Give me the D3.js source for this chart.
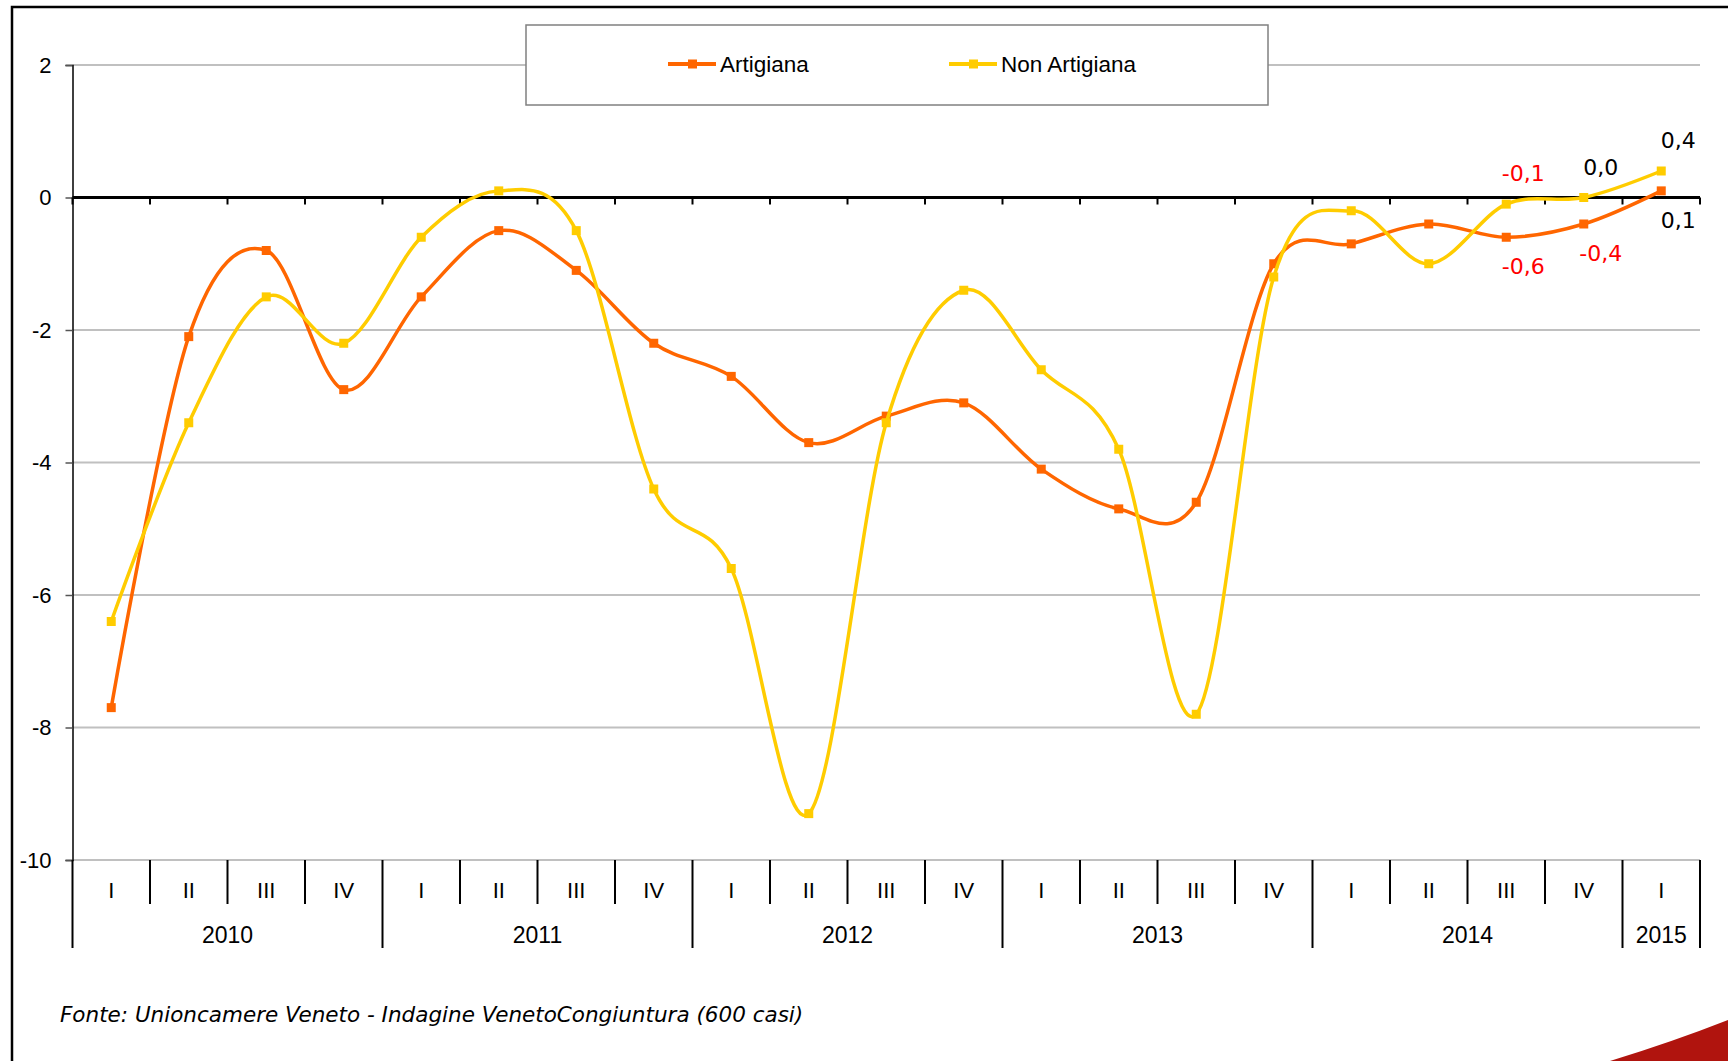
<!DOCTYPE html>
<html>
<head>
<meta charset="utf-8">
<script src="https://cdn.jsdelivr.net/npm/d3@7"></script>
<style>
  body { margin: 0; background: #fff; }
  svg { display: block; }
</style>
</head>
<body>
<div id="chart"></div>
<script>
const categories = [
  "2010 I", "2010 II", "2010 III", "2010 IV",
  "2011 I", "2011 II", "2011 III", "2011 IV",
  "2012 I", "2012 II", "2012 III", "2012 IV",
  "2013 I", "2013 II", "2013 III", "2013 IV",
  "2014 I", "2014 II", "2014 III", "2014 IV",
  "2015 I"
];
const years = ["2010", "2011", "2012", "2013", "2014", "2015"];
const artigiana = [-7.7, -2.1, -0.8, -2.9, -1.5, -0.5, -1.1, -2.2, -2.7, -3.7, -3.3, -3.1,
                   -4.1, -4.7, -4.6, -1.0, -0.7, -0.4, -0.6, -0.4, 0.1];
const nonArtigiana = [-6.4, -3.4, -1.5, -2.2, -0.6, 0.1, -0.5, -4.4, -5.6, -9.3, -3.4, -1.4,
                      -2.6, -3.8, -7.8, -1.2, -0.2, -1.0, -0.1, 0.0, 0.4];
const yTicks = [2, 0, -2, -4, -6, -8, -10];
// which points carry a value label: [series, category index, above/below]
const valueLabels = [
  ["Non Artigiana", 18, "above"], ["Artigiana", 18, "below"],
  ["Non Artigiana", 19, "above"], ["Artigiana", 19, "below"],
  ["Non Artigiana", 20, "above"], ["Artigiana", 20, "below"]
];

const series = [
  { name: "Artigiana", values: artigiana, color: "#FF6600" },
  { name: "Non Artigiana", values: nonArtigiana, color: "#FFCC00" }
];

const width = 1728, height = 1061;
const plotLeft = 72.5, plotRight = 1700, plotTop = 65, plotBottom = 860;
const axisFont = "'Liberation Sans', Arial, sans-serif";
const labelFont = "'DejaVu Sans', Verdana, sans-serif";

const svg = d3.select("#chart")
  .append("svg")
  .attr("width", width)
  .attr("height", height);

// outer frame (runs off the right and bottom edges)
svg.append("rect")
  .attr("x", 12)
  .attr("y", 7)
  .attr("width", 1800)
  .attr("height", 1200)
  .attr("fill", "none")
  .attr("stroke", "#000")
  .attr("stroke-width", 2.5);

const xScale = d3.scaleBand()
  .domain(categories)
  .range([plotLeft, plotRight]);

const yScale = d3.scaleLinear()
  .domain([-10, 2])
  .range([plotBottom, plotTop]);

const cx = (c) => xScale(c) + xScale.bandwidth() / 2;

// gridlines
svg.append("g")
  .selectAll("line")
  .data(yTicks.filter(d => d !== 0))
  .enter()
  .append("line")
  .attr("x1", plotLeft)
  .attr("x2", plotRight)
  .attr("y1", d => yScale(d))
  .attr("y2", d => yScale(d))
  .attr("stroke", "#C0C0C0")
  .attr("stroke-width", 2);

// y axis
const yAxisGroup = svg.append("g")
  .attr("transform", `translate(${plotLeft}, 0)`)
  .call(d3.axisLeft(yScale).tickValues(yTicks).tickSize(7).tickPadding(14).tickFormat(d => String(d)));
yAxisGroup.select(".domain").attr("stroke", "#000").attr("stroke-width", 1.5);
yAxisGroup.selectAll(".tick line").attr("stroke", "#555").attr("stroke-width", 1.5);
yAxisGroup.selectAll("text")
  .style("font-family", axisFont)
  .style("font-size", "22px")
  .attr("fill", "#000");

// zero line with downward ticks at category boundaries
const boundaries = categories.map(c => xScale(c)).concat([plotRight]);
svg.append("line")
  .attr("x1", plotLeft)
  .attr("x2", plotRight)
  .attr("y1", yScale(0))
  .attr("y2", yScale(0))
  .attr("stroke", "#000")
  .attr("stroke-width", 3);
svg.append("g")
  .selectAll("line")
  .data(boundaries)
  .enter()
  .append("line")
  .attr("x1", d => d)
  .attr("x2", d => d)
  .attr("y1", yScale(0))
  .attr("y2", yScale(0) + 7)
  .attr("stroke", "#000")
  .attr("stroke-width", 2);

// multi-level category axis at the bottom
const isYearStart = (i) => i === 0 || i === categories.length || categories[i].endsWith(" I");
svg.append("g")
  .selectAll("line")
  .data(boundaries)
  .enter()
  .append("line")
  .attr("x1", d => d)
  .attr("x2", d => d)
  .attr("y1", plotBottom)
  .attr("y2", (d, i) => isYearStart(i) ? plotBottom + 88 : plotBottom + 44)
  .attr("stroke", "#000")
  .attr("stroke-width", 2);

svg.append("g")
  .selectAll("text")
  .data(categories)
  .enter()
  .append("text")
  .attr("x", d => cx(d))
  .attr("y", plotBottom + 38)
  .attr("text-anchor", "middle")
  .style("font-family", axisFont)
  .style("font-size", "22px")
  .text(d => d.split(" ")[1]);

svg.append("g")
  .selectAll("text")
  .data(years)
  .enter()
  .append("text")
  .attr("x", y => {
    const qs = categories.filter(c => c.startsWith(y));
    return (xScale(qs[0]) + xScale(qs[qs.length - 1]) + xScale.bandwidth()) / 2;
  })
  .attr("y", plotBottom + 83)
  .attr("text-anchor", "middle")
  .style("font-family", axisFont)
  .style("font-size", "23px")
  .text(d => d);

// smoothed lines, like Excel
const line = d3.line()
  .x((d, i) => cx(categories[i]))
  .y(d => yScale(d))
  .curve(d3.curveCardinal.tension(0));

series.forEach(s => {
  svg.append("path")
    .datum(s.values)
    .attr("fill", "none")
    .attr("stroke", s.color)
    .attr("stroke-width", 3.5)
    .attr("d", line);

  svg.append("g")
    .selectAll("rect")
    .data(s.values)
    .enter()
    .append("rect")
    .attr("x", (d, i) => cx(categories[i]) - 4.5)
    .attr("y", d => yScale(d) - 4.5)
    .attr("width", 9)
    .attr("height", 9)
    .attr("fill", s.color);
});

// value labels on the last points
const fmt = (v) => v.toFixed(1).replace(".", ",");
svg.append("g")
  .selectAll("text")
  .data(valueLabels)
  .enter()
  .append("text")
  .attr("x", d => cx(categories[d[1]]) + 17)
  .attr("y", d => {
    const v = series.find(s => s.name === d[0]).values[d[1]];
    return d[2] === "above" ? yScale(v) - 23 : yScale(v) + 37;
  })
  .attr("text-anchor", "middle")
  .style("font-family", labelFont)
  .style("font-size", "22px")
  .attr("fill", d => series.find(s => s.name === d[0]).values[d[1]] < 0 ? "#FF0000" : "#000")
  .text(d => fmt(series.find(s => s.name === d[0]).values[d[1]]));

// legend
const legend = svg.append("g");
legend.append("rect")
  .attr("x", 526)
  .attr("y", 25)
  .attr("width", 742)
  .attr("height", 80)
  .attr("fill", "#fff")
  .attr("stroke", "#808080")
  .attr("stroke-width", 1.5);

const legendX = [668, 949];
series.forEach((s, i) => {
  const g = legend.append("g").attr("transform", `translate(${legendX[i]}, 64)`);
  g.append("line")
    .attr("x1", 0).attr("x2", 48)
    .attr("stroke", s.color)
    .attr("stroke-width", 4);
  g.append("rect")
    .attr("x", 20).attr("y", -4.5)
    .attr("width", 9).attr("height", 9)
    .attr("fill", s.color);
  g.append("text")
    .attr("x", 52)
    .attr("y", 7.5)
    .style("font-family", axisFont)
    .style("font-size", "22.5px")
    .text(s.name);
});

// source note
svg.append("text")
  .attr("x", 60)
  .attr("y", 1022)
  .style("font-family", labelFont)
  .style("font-size", "21.5px")
  .style("font-style", "italic")
  .text("Fonte: Unioncamere Veneto - Indagine VenetoCongiuntura (600 casi)");

// red corner decoration
svg.append("path")
  .attr("d", "M1610,1061 Q1672,1042 1728,1020 L1728,1061 Z")
  .attr("fill", "#B0140E");
</script>
</body>
</html>
